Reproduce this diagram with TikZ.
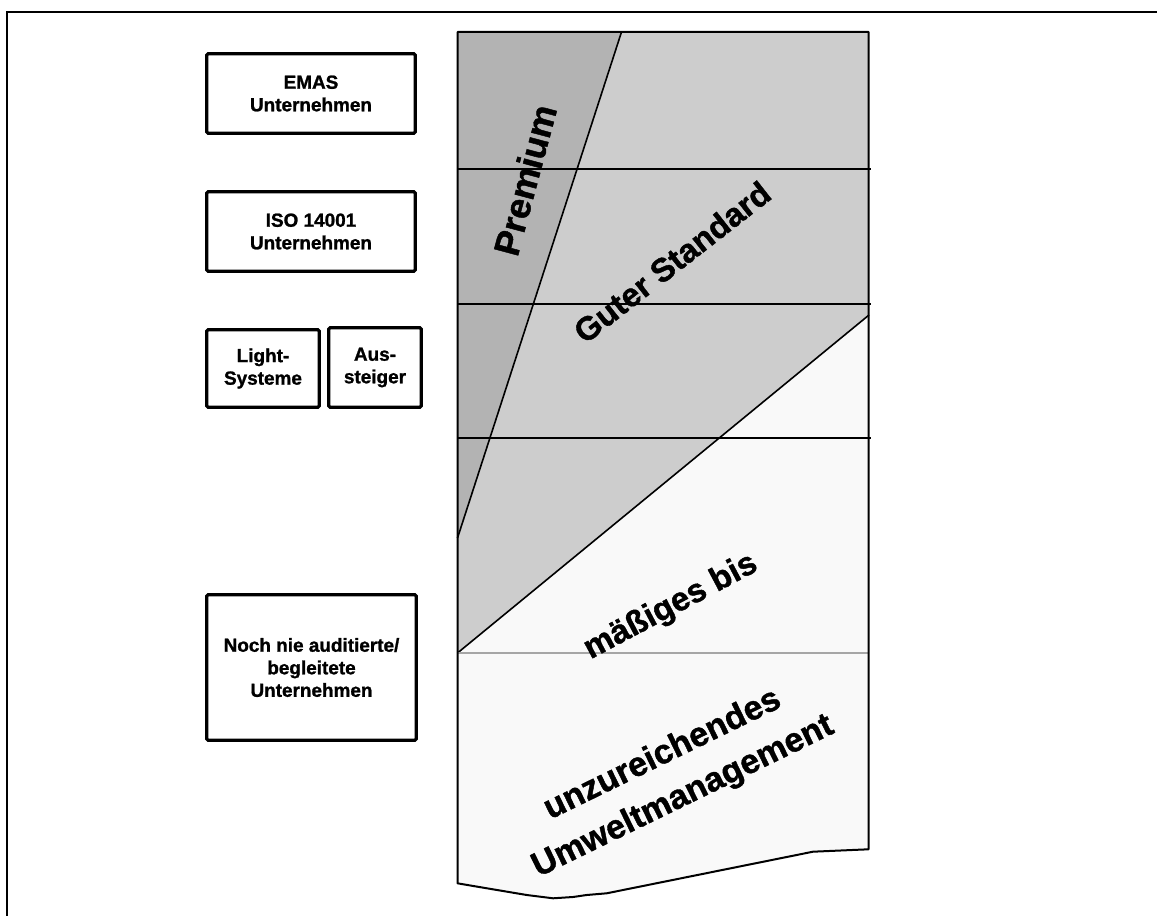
\documentclass[tikz,border=0pt]{standalone}
\usepackage{fontspec}
\setmainfont{Liberation Sans}[BoldFeatures={FakeBold=1.2}]
\definecolor{darkg}{HTML}{B3B3B3}
\definecolor{lightg}{HTML}{CDCDCD}
\definecolor{paleg}{HTML}{F9F9F9}
\begin{document}
\begin{tikzpicture}[x=0.75pt,y=-0.75pt,
  box/.style={draw,line width=2.4pt,rounded corners=1pt,align=center,
    font=\fontsize{14.2}{16.9}\selectfont\bfseries,inner sep=0pt},
  sepline/.style={line width=1.5pt},
  edge/.style={line width=1.2pt},
  big/.style={inner sep=0pt,align=center}]
\useasboundingbox (0,0) rectangle (1157,916);
% frame
\draw[line width=1.2pt] (7,916) -- (7,12) -- (1157,12);
% column fills
\fill[lightg] (457.5,32) -- (868.5,32) -- (868.5,849.3) -- (813,851.7) -- (606.7,893.3) -- (586.7,895) -- (573,897) -- (553,898.3) -- (526.7,895) -- (473.3,886) -- (457.5,883.3) -- cycle;
\fill[darkg] (457.5,32) -- (621.5,32) -- (457.5,538) -- cycle;
\fill[paleg] (457.5,653) -- (869,315) -- (868.5,849.3) -- (813,851.7) -- (606.7,893.3) -- (586.7,895) -- (573,897) -- (553,898.3) -- (526.7,895) -- (473.3,886) -- (457.5,883.3) -- cycle;
% dividing lines
\coordinate (pt) at (621.5,32);
\coordinate (pb) at (457.5,538);
\coordinate (wl) at (457.5,653);
\coordinate (wr) at (869,315);
\draw[edge] (pt) -- (pb);
\draw[edge] (wl) -- (wr);
\draw[gray!70,line width=0.8pt] (457.5,653) -- (869,653);
\draw[sepline] (457.5,169) -- (871,169);
\draw[sepline] (457.5,304) -- (871,304);
\draw[sepline] (457.5,438) -- (871,438);
% outline
\draw[line width=1.5pt,line join=round] (457.5,883.3) -- (457.5,32) -- (868.5,32) -- (868.5,849.3) -- (813,851.7) -- (606.7,893.3) -- (586.7,895) -- (573,897) -- (553,898.3) -- (526.7,895) -- (473.3,886) -- cycle;
% labels in column
\node[big,font=\fontsize{27}{32}\selectfont\bfseries,rotate=75] (premium) at (525,180) {Premium};
\node[big,font=\fontsize{24.6}{28}\selectfont\bfseries,rotate=38] (guter) at (672,262) {Guter Standard};
\node[big,font=\fontsize{24.8}{28}\selectfont\bfseries,rotate=28] (maessig) at (671,607) {mäßiges bis};
\node[big,font=\fontsize{25.5}{35}\selectfont\bfseries,rotate=26] (unzu) at (673,776) {unzureichendes\\Umweltmanagement};
% boxes
\node[box,minimum width=156.4pt,minimum height=59.6pt] (emas) at (311,93.5) {EMAS\\Unternehmen};
\node[box,minimum width=156.4pt,minimum height=59.6pt] (iso) at (311,231.5) {ISO 14001\\Unternehmen};
\node[box,minimum width=84.4pt,minimum height=58.1pt] (light) at (263,368.5) {Light-\\Systeme};
\node[box,minimum width=69.4pt,minimum height=59.6pt] (aus) at (375,367.5) {Aus-\\steiger};
\node[box,minimum width=157.1pt,minimum height=109.1pt] (noch) at (311.5,667.5) {Noch nie auditierte/\\begleitete\\Unternehmen};
\end{tikzpicture}
\end{document}
